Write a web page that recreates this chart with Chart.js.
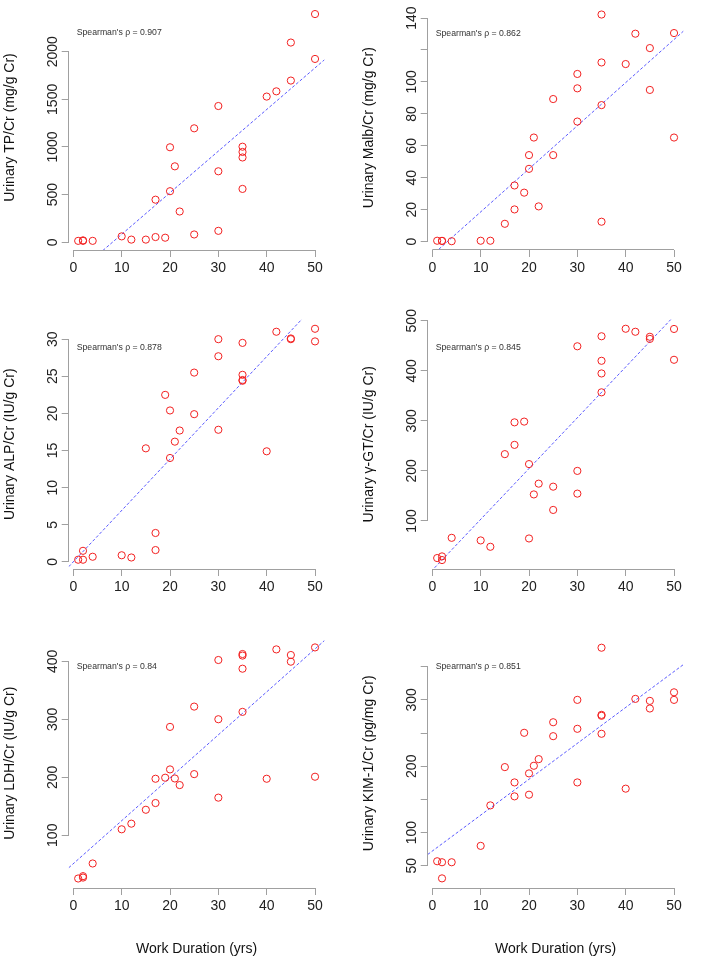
<!DOCTYPE html>
<html>
<head>
<meta charset="utf-8">
<script src="https://cdn.jsdelivr.net/npm/chart.js@4.4.1/dist/chart.umd.min.js"></script>
<style>
  html, body { margin: 0; padding: 0; background: #fff; }
  #wrap { position: relative; width: 718px; height: 967px; overflow: hidden; }
  .cell { position: absolute; }
</style>
</head>
<body>
<div id="wrap"></div>
<script>
// work duration (yrs) of the 29 subjects, shared by every panel
const workYears = [1, 2, 2, 4, 10, 12, 15, 17, 17, 19, 20, 20, 21, 22, 25, 25, 30, 30, 30, 35, 35, 35, 35, 40, 42, 45, 45, 50, 50];

// urinary markers, same order as workYears
const tpCr   = [15, 15, 20, 15, 62, 28, 28, 55, 447, 48, 536, 997, 797, 323, 1196, 82, 1430, 745, 120, 1003, 948, 890, 560, 1529, 1584, 1697, 2096, 2395, 1924];
const malbCr = [0.6, 0.5, 0.5, 0.3, 0.6, 0.6, 11.2, 20.2, 35.2, 30.7, 45.6, 54.2, 65.2, 22.1, 89.3, 54.2, 105, 96, 75.2, 142.2, 112.2, 85.5, 12.5, 111.2, 130.2, 121.2, 95, 130.6, 65.2];
const alpCr  = [0.3, 0.3, 1.5, 0.7, 0.9, 0.6, 15.3, 1.6, 3.9, 22.5, 20.4, 14.0, 16.2, 17.7, 25.5, 19.9, 30.0, 27.7, 17.8, 29.5, 25.2, 24.4, 24.5, 14.9, 31.0, 30.0, 30.1, 31.4, 29.7];
const ggtCr  = [25.9, 21.9, 29.2, 66.3, 61.1, 48.4, 233.5, 252, 297, 298.5, 213.6, 65, 153, 174.5, 168.5, 122, 449, 200, 154.6, 469, 420, 394.7, 357, 484, 478, 468, 463.7, 483.6, 422];
const ldhCr  = [25.4, 29.4, 27, 51.3, 110.3, 120, 144, 155.6, 197.5, 199.3, 213.6, 287, 198, 186.6, 322, 205.5, 402.4, 300.2, 164.9, 412.7, 387.4, 312.9, 410, 197.5, 420.7, 411, 399.5, 424.1, 201];
const kimCr  = [56.8, 55.3, 31, 55.3, 80, 141, 198.7, 175.6, 154.6, 250.4, 189.2, 157.1, 200.7, 210.7, 266.3, 245.3, 300, 256.4, 175.6, 378.6, 277.4, 276, 248.9, 166.2, 301.5, 298.5, 287, 311.4, 300];

// fitted lines: [intercept, slope]
const tpFit   = [-353, 43.66];
const malbFit = [-8.34, 2.698];
const alpFit  = [0.02, 0.691];
const ggtFit  = [1.7, 10.15];
const ldhFit  = [51, 7.41];
const kimFit  = [72.2, 5.41];

const rhoText = ['0.907', '0.862', '0.878', '0.845', '0.84', '0.851'];

// tick values and hidden labels
const xTicks    = [0, 10, 20, 30, 40, 50];
const tpTicks   = [0, 500, 1000, 1500, 2000];
const malbTicks = [0, 20, 40, 60, 80, 100, 120, 140];
const alpTicks  = [0, 5, 10, 15, 20, 25, 30];
const ggtTicks  = [100, 200, 300, 400, 500];
const ldhTicks  = [100, 200, 300, 400];
const kimTicks  = [50, 100, 150, 200, 250, 300, 350];
const malbHidden = [120];
const kimHidden  = [150, 250, 350];

const FONT = '"Liberation Sans", Arial, Helvetica, sans-serif';
Chart.defaults.font.family = FONT;
const gray = '#a0a0a0';
const red = '#f22020';
const blue = '#5a5aff';
const xRange = [-0.96, 51.96];

const panels = [
  { vals: tpCr,   fit: tpFit,   ticks: tpTicks,   hide: [],         yr: [-81, 2490],   label: 'Urinary TP/Cr (mg/g Cr)' },
  { vals: malbCr, fit: malbFit, ticks: malbTicks, hide: malbHidden, yr: [-5.2, 147.9], label: 'Urinary Malb/Cr (mg/g Cr)' },
  { vals: alpCr,  fit: alpFit,  ticks: alpTicks,  hide: [],         yr: [-0.95, 32.65], label: 'Urinary ALP/Cr (IU/g Cr)' },
  { vals: ggtCr,  fit: ggtFit,  ticks: ggtTicks,  hide: [],         yr: [4, 502.5],    label: 'Urinary γ-GT/Cr (IU/g Cr)' },
  { vals: ldhCr,  fit: ldhFit,  ticks: ldhTicks,  hide: [],         yr: [9, 439.5],    label: 'Urinary LDH/Cr (IU/g Cr)' },
  { vals: kimCr,  fit: kimFit,  ticks: kimTicks,  hide: kimHidden,  yr: [16.5, 392.5], label: 'Urinary KIM-1/Cr (pg/mg Cr)' }
];

// R-style axis lines (first tick to last tick) and the rho note
const rAxes = {
  id: 'rAxes',
  afterDraw(chart, args, opts) {
    const { ctx, chartArea, scales: { x, y } } = chart;
    const al = p => Math.round(p - 0.5) + 0.5;
    ctx.save();
    ctx.strokeStyle = gray;
    ctx.lineWidth = 1;
    ctx.beginPath();
    const lx = al(chartArea.left);
    ctx.moveTo(lx, y.getPixelForValue(y.ticks[0].value));
    ctx.lineTo(lx, y.getPixelForValue(y.ticks[y.ticks.length - 1].value));
    const by = al(chartArea.bottom);
    ctx.moveTo(x.getPixelForValue(x.ticks[0].value), by);
    ctx.lineTo(x.getPixelForValue(x.ticks[x.ticks.length - 1].value), by);
    ctx.stroke();
    ctx.fillStyle = '#333';
    ctx.font = '8.7px ' + FONT;
    ctx.textBaseline = 'middle';
    ctx.fillText(opts.text, chartArea.left + 8, chartArea.top + 28);
    ctx.restore();
  }
};

const measure = document.createElement('canvas').getContext('2d');
measure.font = '14px ' + FONT;

const wrap = document.getElementById('wrap');
panels.forEach((p, i) => {
  const col = i % 2, row = Math.floor(i / 2);
  const h = row === 2 ? 329 : 319;
  const extra = row === 0 ? 0 : 20;   // room above for labels near the top
  const div = document.createElement('div');
  div.className = 'cell';
  div.style.left = (col * 359) + 'px';
  div.style.top = (row * 319 - extra) + 'px';
  const cv = document.createElement('canvas');
  cv.width = 359; cv.height = h + extra;
  div.appendChild(cv);
  wrap.appendChild(div);

  const shown = p.ticks.filter(v => !p.hide.includes(v));
  const widest = Math.max(...shown.map(v => measure.measureText(String(v)).width));
  const yPad = 68.7 - 7 - 53 - widest / 2;

  new Chart(cv, {
    data: {
      datasets: [
        {
          type: 'scatter',
          data: workYears.map((x, k) => ({ x: x, y: p.vals[k] })),
          pointStyle: 'circle',
          pointRadius: 3.6,
          pointBorderWidth: 1,
          borderColor: red,
          backgroundColor: 'rgba(0,0,0,0)',
          order: 1
        },
        {
          type: 'line',
          data: xRange.map(x => ({ x: x, y: p.fit[0] + p.fit[1] * x })),
          borderColor: blue,
          borderWidth: 1,
          borderDash: [3, 2],
          pointRadius: 0,
          fill: false,
          order: 2
        }
      ]
    },
    options: {
      responsive: false,
      animation: false,
      devicePixelRatio: 1,
      layout: { padding: { top: 0.5 + extra, right: 34.5, left: 0, bottom: 0 } },
      plugins: {
        legend: { display: false },
        tooltip: { enabled: false },
        rAxes: { text: "Spearman's ρ = " + rhoText[i] }
      },
      scales: {
        x: {
          type: 'linear',
          min: xRange[0], max: xRange[1],
          afterBuildTicks: s => { s.ticks = xTicks.map(v => ({ value: v })); },
          afterFit: s => { s.height = h - 250; },
          ticks: { font: { size: 14 }, color: '#222', padding: 2.5, maxRotation: 0, autoSkip: false, callback: v => String(v) },
          grid: { drawOnChartArea: false, drawTicks: true, tickLength: 7, color: gray },
          border: { display: false },
          title: { display: row === 2, text: 'Work Duration (yrs)', color: '#111', font: { size: 14 }, padding: { top: 0, bottom: 9 } }
        },
        y: {
          type: 'linear',
          min: p.yr[0], max: p.yr[1],
          afterBuildTicks: s => { s.ticks = p.ticks.map(v => ({ value: v })); },
          afterFit: s => { s.width = 68.7; },
          ticks: {
            font: { size: 14 }, color: '#222', padding: yPad, autoSkip: false,
            minRotation: 90, maxRotation: 90, crossAlign: 'center',
            callback: v => p.hide.includes(v) ? '' : String(v)
          },
          grid: { drawOnChartArea: false, drawTicks: true, tickLength: 7, color: gray },
          border: { display: false },
          title: { display: true, text: p.label, color: '#111', font: { size: 14 }, padding: { top: 2, bottom: 0 } }
        }
      }
    },
    plugins: [rAxes]
  });
});
</script>
</body>
</html>
